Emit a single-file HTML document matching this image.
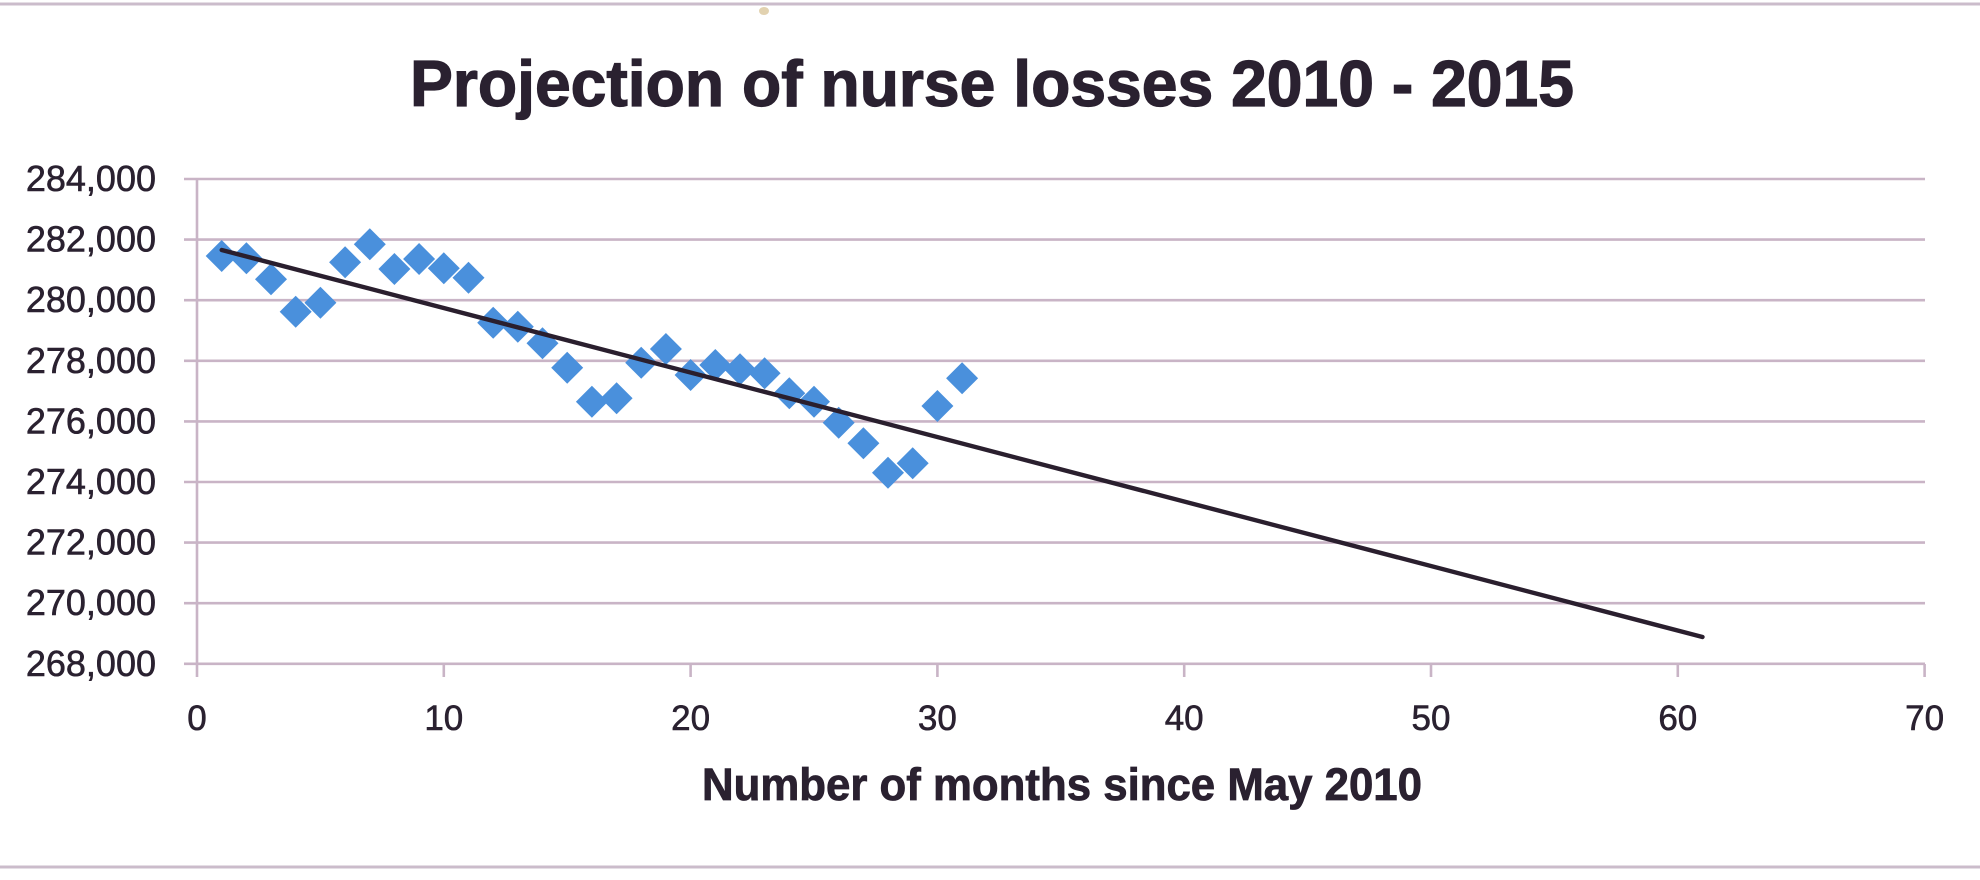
<!DOCTYPE html>
<html>
<head>
<meta charset="utf-8">
<style>
  html, body { margin: 0; padding: 0; background: #ffffff; }
  body { width: 1980px; height: 880px; overflow: hidden; }
  svg { display: block; }
  text { font-family: "Liberation Sans", Arial, sans-serif; fill: #2a2130; stroke: #2a2130; }
</style>
</head>
<body>
<svg width="1980" height="880" viewBox="0 0 1980 880" xmlns="http://www.w3.org/2000/svg">
  <rect x="0" y="0" width="1980" height="880" fill="#ffffff"/>
  <!-- page scan borders -->
  <line x1="0" y1="4" x2="1980" y2="4" stroke="#cbbccb" stroke-width="3"/>
  <line x1="0" y1="867" x2="1980" y2="867" stroke="#cbbccb" stroke-width="3"/>
  <ellipse cx="764" cy="11" rx="5" ry="4" fill="#e2d2b0"/>

  <!-- title -->
  <text x="992" y="106" font-size="65" font-weight="bold" text-anchor="middle" textLength="1164" lengthAdjust="spacingAndGlyphs" stroke-width="1.2">Projection of nurse losses 2010 - 2015</text>

  <!-- gridlines -->
  <g stroke="#c9b4c6" stroke-width="2.6">
    <line x1="184" y1="179" x2="1925" y2="179"/>
    <line x1="184" y1="239.6" x2="1925" y2="239.6"/>
    <line x1="184" y1="300.2" x2="1925" y2="300.2"/>
    <line x1="184" y1="360.8" x2="1925" y2="360.8"/>
    <line x1="184" y1="421.4" x2="1925" y2="421.4"/>
    <line x1="184" y1="482" x2="1925" y2="482"/>
    <line x1="184" y1="542.6" x2="1925" y2="542.6"/>
    <line x1="184" y1="603.2" x2="1925" y2="603.2"/>
    <line x1="184" y1="663.8" x2="1925" y2="663.8"/>
    <!-- y axis -->
    <line x1="197" y1="179" x2="197" y2="677"/>
    <!-- x ticks -->
    <line x1="443.8" y1="664" x2="443.8" y2="677"/>
    <line x1="690.6" y1="664" x2="690.6" y2="677"/>
    <line x1="937.4" y1="664" x2="937.4" y2="677"/>
    <line x1="1184.2" y1="664" x2="1184.2" y2="677"/>
    <line x1="1431" y1="664" x2="1431" y2="677"/>
    <line x1="1677.8" y1="664" x2="1677.8" y2="677"/>
    <line x1="1924.6" y1="664" x2="1924.6" y2="677"/>
  </g>

  <!-- y labels -->
  <g font-size="36" text-anchor="end" stroke-width="0.6">
    <text x="156" y="191">284,000</text>
    <text x="156" y="251.6">282,000</text>
    <text x="156" y="312.2">280,000</text>
    <text x="156" y="372.8">278,000</text>
    <text x="156" y="433.4">276,000</text>
    <text x="156" y="494">274,000</text>
    <text x="156" y="554.6">272,000</text>
    <text x="156" y="615.2">270,000</text>
    <text x="156" y="675.8">268,000</text>
  </g>

  <!-- x labels -->
  <g font-size="35" text-anchor="middle" stroke-width="0.6">
    <text x="197" y="730">0</text>
    <text x="443.8" y="730">10</text>
    <text x="690.6" y="730">20</text>
    <text x="937.4" y="730">30</text>
    <text x="1184.2" y="730">40</text>
    <text x="1431" y="730">50</text>
    <text x="1677.8" y="730">60</text>
    <text x="1924.6" y="730">70</text>
  </g>

  <!-- x axis title -->
  <text x="1062" y="800" font-size="45" font-weight="bold" text-anchor="middle" textLength="720" lengthAdjust="spacingAndGlyphs" stroke-width="0.8">Number of months since May 2010</text>

  <!-- data diamonds -->
  <g fill="#4a90dc">
    <path d="M221.7 240 l16 16 -16 16 -16 -16z"/>
    <path d="M246.4 242.3 l16 16 -16 16 -16 -16z"/>
    <path d="M271.0 263.3 l16 16 -16 16 -16 -16z"/>
    <path d="M295.7 295.7 l16 16 -16 16 -16 -16z"/>
    <path d="M320.4 286.7 l16 16 -16 16 -16 -16z"/>
    <path d="M345.1 246.3 l16 16 -16 16 -16 -16z"/>
    <path d="M369.8 228.3 l16 16 -16 16 -16 -16z"/>
    <path d="M394.4 253 l16 16 -16 16 -16 -16z"/>
    <path d="M419.1 243 l16 16 -16 16 -16 -16z"/>
    <path d="M443.8 252.3 l16 16 -16 16 -16 -16z"/>
    <path d="M468.5 261.7 l16 16 -16 16 -16 -16z"/>
    <path d="M493.2 306.7 l16 16 -16 16 -16 -16z"/>
    <path d="M517.8 310.7 l16 16 -16 16 -16 -16z"/>
    <path d="M542.5 327.3 l16 16 -16 16 -16 -16z"/>
    <path d="M567.2 351.7 l16 16 -16 16 -16 -16z"/>
    <path d="M591.9 385.7 l16 16 -16 16 -16 -16z"/>
    <path d="M616.6 382.3 l16 16 -16 16 -16 -16z"/>
    <path d="M641.2 346.7 l16 16 -16 16 -16 -16z"/>
    <path d="M665.9 333 l16 16 -16 16 -16 -16z"/>
    <path d="M690.6 359 l16 16 -16 16 -16 -16z"/>
    <path d="M715.3 349 l16 16 -16 16 -16 -16z"/>
    <path d="M740.0 353.3 l16 16 -16 16 -16 -16z"/>
    <path d="M764.6 357.3 l16 16 -16 16 -16 -16z"/>
    <path d="M789.3 377.3 l16 16 -16 16 -16 -16z"/>
    <path d="M814.0 385.7 l16 16 -16 16 -16 -16z"/>
    <path d="M838.7 406.7 l16 16 -16 16 -16 -16z"/>
    <path d="M863.4 427.3 l16 16 -16 16 -16 -16z"/>
    <path d="M888.0 456.7 l16 16 -16 16 -16 -16z"/>
    <path d="M912.7 447.3 l16 16 -16 16 -16 -16z"/>
    <path d="M937.4 390 l16 16 -16 16 -16 -16z"/>
    <path d="M962.1 362.3 l16 16 -16 16 -16 -16z"/>
  </g>

  <!-- trendline -->
  <line x1="221.7" y1="250" x2="1702.5" y2="637" stroke="#2a1f2e" stroke-width="4.4" stroke-linecap="round"/>
</svg>
</body>
</html>
